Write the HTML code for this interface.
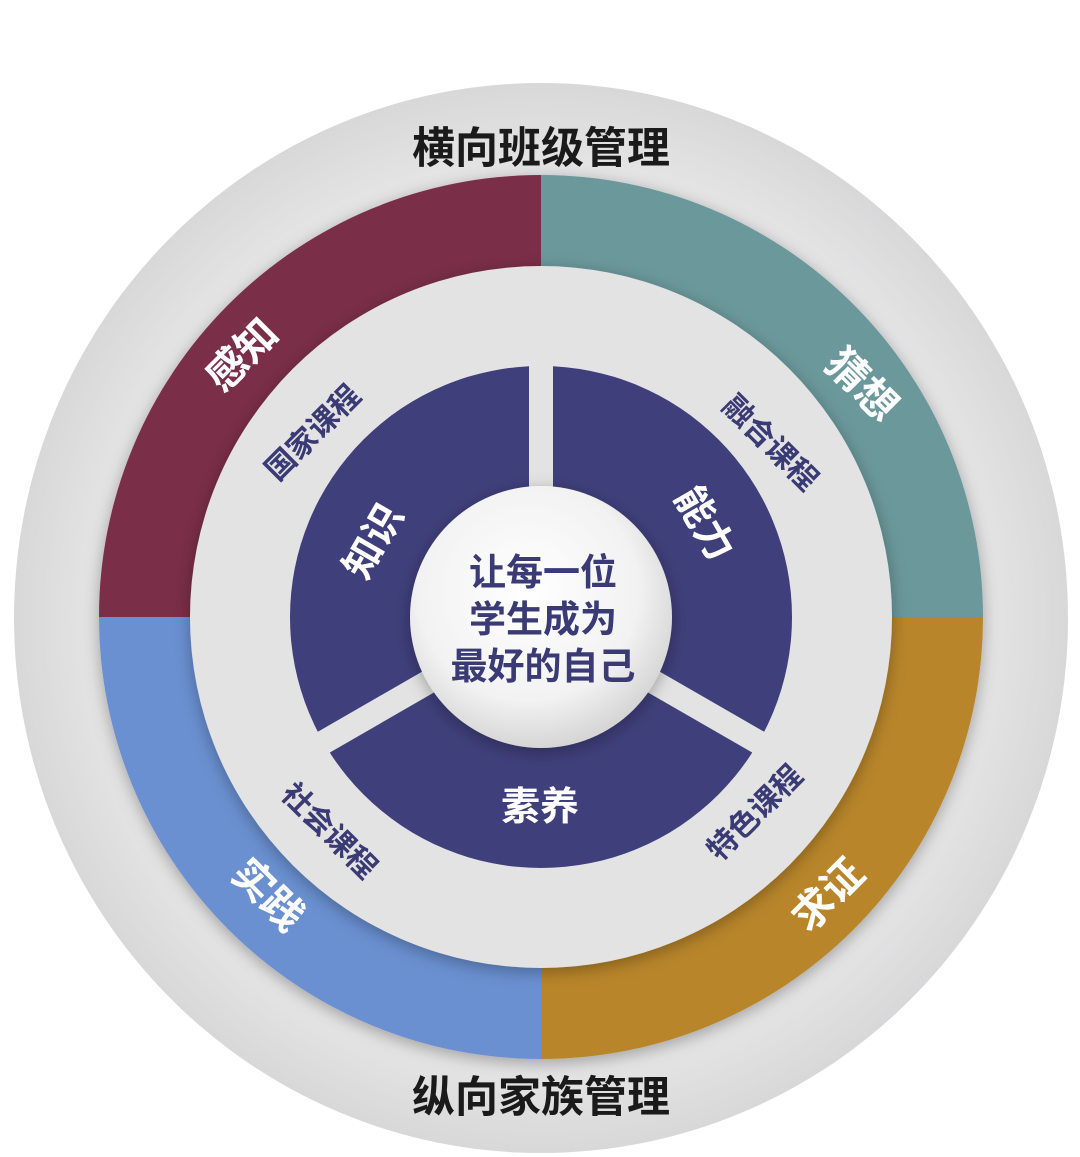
<!DOCTYPE html>
<html><head><meta charset="utf-8"><style>
html,body{margin:0;padding:0;background:#fff;}
svg{display:block;}
text{font-family:"Liberation Sans","Noto Sans CJK SC",sans-serif;font-weight:bold;}
</style></head><body>
<svg width="1080" height="1157" viewBox="0 0 1080 1157" xmlns="http://www.w3.org/2000/svg">
<defs>
<radialGradient id="og" cx="0.5" cy="0.5" r="0.5">
<stop offset="0.85" stop-color="#e4e4e5"/><stop offset="1" stop-color="#d8d8d9"/></radialGradient>
<radialGradient id="cg" cx="0.45" cy="0.4" r="0.6">
<stop offset="0" stop-color="#ffffff"/><stop offset="0.7" stop-color="#f2f2f2"/><stop offset="1" stop-color="#d6d6d6"/></radialGradient>
<filter id="sh" x="-20%" y="-20%" width="140%" height="140%"><feDropShadow dx="0" dy="4" stdDeviation="8" flood-color="#000" flood-opacity="0.3"/></filter>
</defs>
<ellipse cx="541" cy="618" rx="527" ry="535" fill="url(#og)"/>
<g filter="url(#sh)">
<path d="M541 617 L541 175 A442 442 0 0 0 99 617 Z" fill="#7a2f47"/>
<path d="M541 617 L541 175 A442 442 0 0 1 983 617 Z" fill="#6a989b"/>
<path d="M541 617 L983 617 A442 442 0 0 1 541 1059 Z" fill="#b8852a"/>
<path d="M541 617 L541 1059 A442 442 0 0 1 99 617 Z" fill="#6b90d1"/>
</g>
<circle cx="541" cy="617" r="351" fill="#e3e3e4" filter="url(#sh)"/>
<circle cx="541" cy="617" r="251" fill="#3f3f7b"/>
<g stroke="#e3e3e4" stroke-width="24">
<line x1="541" y1="617" x2="541" y2="360"/>
<line x1="541" y1="617" x2="305" y2="753"/>
<line x1="541" y1="617" x2="777" y2="753"/>
</g>
<circle cx="541" cy="617" r="131" fill="url(#cg)" filter="url(#sh)"/>
<g fill="#3a3a74" font-size="37" text-anchor="middle">
<text x="543" y="585">让每一位</text>
<text x="543" y="632">学生成为</text>
<text x="543" y="679">最好的自己</text>
</g>
<g fill="#1a1a1a" font-size="43" text-anchor="middle">
<text x="541" y="163">横向班级管理</text>
<text x="541" y="1112">纵向家族管理</text>
</g>
<g fill="#fff" font-size="41" text-anchor="middle">
<text transform="translate(252,365) rotate(-45)">感知</text>
<text transform="translate(852,395) rotate(45)">猜想</text>
<text transform="translate(838,905) rotate(-45)">求证</text>
<text transform="translate(258,905) rotate(45)">实践</text>
</g>
<g fill="#3a3a74" font-size="30" text-anchor="middle">
<text transform="translate(320,440) rotate(-45)">国家课程</text>
<text transform="translate(763,450) rotate(45)">融合课程</text>
<text transform="translate(762,820) rotate(-45)">特色课程</text>
<text transform="translate(322,838) rotate(45)">社会课程</text>
</g>
<g fill="#fff" font-size="39" text-anchor="middle">
<text transform="translate(385,548) rotate(-60)">知识</text>
<text transform="translate(693,530) rotate(60)">能力</text>
<text x="540" y="820">素养</text>
</g>
</svg>
</body></html>
